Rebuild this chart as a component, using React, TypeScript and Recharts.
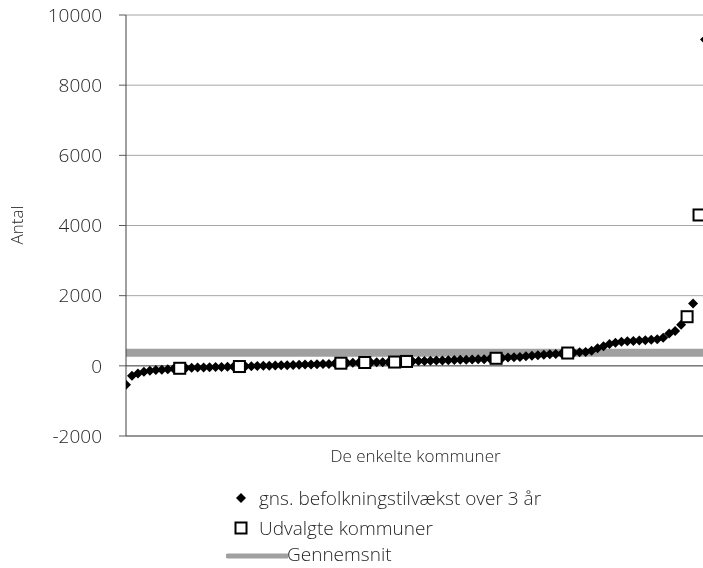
import {
  ComposedChart,
  Line,
  Scatter,
  XAxis,
  YAxis,
  CartesianGrid,
  ReferenceLine,
} from "recharts";

// gns. befolkningstilvækst over 3 år, sorteret stigende (98 kommuner)
const tilvaekst = [
  -540, -280, -220, -170, -140, -120, -110, -100, -85, -70,
  -60, -55, -50, -45, -40, -35, -30, -28, -25, -20,
  -15, -10, -5, 0, 5, 10, 15, 20, 25, 30,
  35, 40, 45, 50, 55, 65, 75, 80, 85, 90,
  95, 98, 100, 102, 104, 108, 115, 125, 130, 135,
  140, 145, 150, 155, 160, 165, 170, 175, 180, 185,
  190, 200, 215, 225, 235, 245, 255, 270, 285, 300,
  315, 330, 340, 350, 365, 375, 385, 395, 430, 500,
  560, 620, 660, 690, 700, 710, 720, 730, 740, 760,
  800, 920, 990, 1170, 1400, 1780, 4300, 9300,
];

// positioner (rang) for udvalgte kommuner
const udvalgteIdx = [9, 19, 36, 40, 45, 47, 62, 74, 94, 96];

const gennemsnit = 370;

const yTicks = [-2000, 0, 2000, 4000, 6000, 8000, 10000];

const FONT = "'Open Sans', sans-serif";
const TEXT = "#262626";
const WEIGHT = 300;

const rows = tilvaekst.map((v, i) => ({ idx: i, value: v, avg: gennemsnit }));
const udvalgte = udvalgteIdx.map((i) => ({ idx: i, value: tilvaekst[i] }));

const Diamond = (props: any) => {
  const { cx, cy } = props;
  const r = 5;
  return (
    <path
      d={`M${cx},${cy - r}L${cx + r},${cy}L${cx},${cy + r}L${cx - r},${cy}Z`}
      fill="#000"
    />
  );
};

const Square = (props: any) => {
  const { cx, cy } = props;
  return (
    <rect x={cx - 5.5} y={cy - 5.5} width={11} height={11} fill="#fff" stroke="#000" strokeWidth={2} />
  );
};

const YLabel = () => (
  <text
    x={16}
    y={225}
    transform="rotate(-90, 16, 225)"
    textAnchor="middle"
    dominantBaseline="central"
    fontFamily={FONT}
    fontWeight={WEIGHT}
    fontSize={17}
    fill={TEXT}
  >
    Antal
  </text>
);

export default function App() {
  return (
    <div
      style={{
        position: "fixed",
        left: 0,
        top: 0,
        width: 703,
        height: 568,
        overflow: "hidden",
        fontFamily: FONT,
      }}
    >
      <ComposedChart
        width={728}
        height={558}
        data={rows}
        margin={{ top: 15, right: 23, left: 0, bottom: 92 }}
      >
        <CartesianGrid vertical={false} stroke="#a6a6a6" />
        <XAxis
          type="number"
          dataKey="idx"
          domain={[0, 97]}
          allowDataOverflow
          tick={false}
          tickLine={false}
          axisLine={{ stroke: "#595959" }}
          height={30}
          label={{
            value: "De enkelte kommuner",
            position: "insideBottom",
            offset: 4,
            fontSize: 17,
            fontWeight: WEIGHT,
            fill: TEXT,
            fontFamily: FONT,
          }}
        />
        <YAxis
          type="number"
          domain={[-2000, 10000]}
          allowDataOverflow
          ticks={yTicks}
          width={126}
          tickSize={7}
          tickMargin={17}
          tick={{ fontSize: 19, fill: TEXT, fontFamily: FONT, fontWeight: WEIGHT }}
          tickLine={{ stroke: "#595959" }}
          axisLine={{ stroke: "#404040" }}
          label={{ content: YLabel }}
        />
        <ReferenceLine y={0} stroke="#595959" />
        <Line
          dataKey="avg"
          stroke="#a0a0a0"
          strokeWidth={8}
          dot={false}
          activeDot={false}
          isAnimationActive={false}
        />
        <Scatter
          data={rows}
          dataKey="value"
          shape={Diamond}
          isAnimationActive={false}
        />
        <Scatter
          data={udvalgte}
          dataKey="value"
          shape={Square}
          isAnimationActive={false}
        />
      </ComposedChart>

      <div
        style={{
          position: "absolute",
          left: 0,
          top: 0,
          width: 703,
          height: 568,
          pointerEvents: "none",
          color: TEXT,
          fontSize: 19,
          fontWeight: WEIGHT,
        }}
      >
        <svg style={{ position: "absolute", left: 231, top: 488 }} width={20} height={20}>
          <path d="M10,5L15,10L10,15L5,10Z" fill="#000" />
        </svg>
        <div style={{ position: "absolute", left: 259, top: 488, lineHeight: "20px" }}>
          gns. befolkningstilvækst over 3 år
        </div>
        <svg style={{ position: "absolute", left: 231, top: 518 }} width={20} height={20}>
          <rect x={4.5} y={4.5} width={11} height={11} fill="#fff" stroke="#000" strokeWidth={2} />
        </svg>
        <div style={{ position: "absolute", left: 259, top: 518, lineHeight: "20px" }}>
          Udvalgte kommuner
        </div>
        <svg style={{ position: "absolute", left: 226, top: 550 }} width={62} height={12}>
          <line x1={2} y1={6} x2={61} y2={6} stroke="#a0a0a0" strokeWidth={5} strokeLinecap="round" />
        </svg>
        <div style={{ position: "absolute", left: 287, top: 545, lineHeight: "19px" }}>
          Gennemsnit
        </div>
      </div>
    </div>
  );
}
